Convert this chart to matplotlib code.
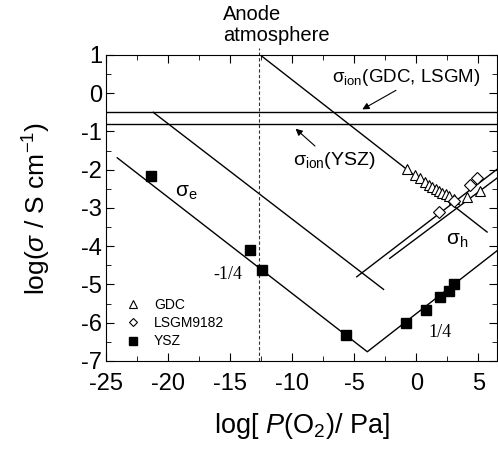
import numpy as np
import matplotlib
matplotlib.use("Agg")
import matplotlib.pyplot as plt
from matplotlib.ticker import MultipleLocator

plt.rcParams['font.family'] = ['Liberation Sans', 'DejaVu Sans']
plt.rcParams['mathtext.fontset'] = 'custom'
plt.rcParams['mathtext.rm'] = 'Liberation Sans'
plt.rcParams['mathtext.it'] = 'Liberation Sans:italic'
plt.rcParams['axes.unicode_minus'] = False

# measured points
ysz_x = [-21.4, -13.4, -12.4, -5.65, -0.85, 0.75, 1.9, 2.6, 3.05]
ysz_y = [-2.17, -4.11, -4.61, -6.33, -6.0, -5.66, -5.34, -5.17, -5.0]

gdc_x = [-0.75, -0.1, 0.3, 0.7, 1.0, 1.3, 1.55, 1.8, 2.05, 2.35, 2.6, 3.0, 4.1, 5.15]
gdc_y = [-1.99, -2.14, -2.22, -2.31, -2.40, -2.44, -2.51, -2.56, -2.60, -2.63, -2.69, -2.77, -2.72, -2.57]

lsgm_x = [1.8, 3.0, 4.35, 4.9]
lsgm_y = [-3.10, -2.83, -2.40, -2.22]

# model lines (slopes -1/4 and +1/4)
ysz_e_x = [-24.1, -3.95, 6.5]
ysz_e_y = [-1.69, -6.76, -4.12]
line_a_x = [-21.2, -2.64]
line_a_y = [-0.5, -5.13]
line_b_x = [-12.58, 5.7]
line_b_y = [1.0, -3.63]
line_c_x = [-4.8, 6.5]
line_c_y = [-4.80, -1.99]
line_d_x = [-2.15, 6.5]
line_d_y = [-4.32, -2.22]

sigma_ion_gdc = -0.5
sigma_ion_ysz = -0.8
anode_x = -12.7

fig = plt.figure(figsize=(4.98, 4.54), dpi=100)
ax = fig.add_axes([0.213, 0.205, 0.785, 0.674])

lw = 1.0
ax.plot(ysz_e_x, ysz_e_y, color='black', lw=lw)
ax.plot(line_a_x, line_a_y, color='black', lw=lw)
ax.plot(line_b_x, line_b_y, color='black', lw=lw)
ax.plot(line_c_x, line_c_y, color='black', lw=lw)
ax.plot(line_d_x, line_d_y, color='black', lw=lw)
ax.axhline(sigma_ion_gdc, color='black', lw=lw)
ax.axhline(sigma_ion_ysz, color='black', lw=lw)
ax.plot([anode_x, anode_x], [-7, 1.18], color='#333333', lw=0.8,
        ls=(0, (3, 2)), clip_on=False)

ax.plot(gdc_x, gdc_y, ls='none', marker='^', ms=7, mfc='white', mec='black',
        mew=0.8, label='GDC')
ax.plot(lsgm_x, lsgm_y, ls='none', marker='D', ms=6, mfc='white', mec='black',
        mew=0.8, label='LSGM9182')
ax.plot(ysz_x, ysz_y, ls='none', marker='s', ms=7, color='black', label='YSZ')

ax.set_xlim(-25, 6.5)
ax.set_ylim(-7, 1)
ax.xaxis.set_major_locator(MultipleLocator(5))
ax.xaxis.set_minor_locator(MultipleLocator(2.5))
ax.yaxis.set_major_locator(MultipleLocator(1))
ax.yaxis.set_minor_locator(MultipleLocator(0.5))
ax.tick_params(which='both', direction='in', top=True, right=True, labelsize=17)
ax.tick_params(which='major', length=6)
ax.tick_params(which='minor', length=3.5)
ax.tick_params(axis='x', pad=9)
ax.tick_params(axis='y', pad=3)

ax.set_xlabel(r'log[ $P$(O$_2$)/ Pa]', fontsize=19.5, labelpad=11)
ax.set_ylabel(r'log($\sigma$ / S cm$^{-1}$)', fontsize=19, labelpad=20)

# annotations
ax.text(-15.55, 1.26, 'Anode\natmosphere', ha='left', va='bottom',
        fontsize=14.5, linespacing=1.1, clip_on=False)
ax.text(-0.8, 0.4, 'σ$_\\mathrm{ion}$(GDC, LSGM)', ha='center', va='center', fontsize=13.5)
ax.annotate('', xy=(-4.55, -0.46), xytext=(-1.45, 0.11),
            arrowprops=dict(arrowstyle='-|>', color='black', lw=0.8,
                            mutation_scale=10))
ax.text(-6.6, -1.75, 'σ$_\\mathrm{ion}$(YSZ)', ha='center', va='center', fontsize=14)
ax.annotate('', xy=(-9.9, -0.88), xytext=(-8.0, -1.43),
            arrowprops=dict(arrowstyle='-|>', color='black', lw=0.8,
                            mutation_scale=10))
ax.text(-18.5, -2.6, 'σ$_\\mathrm{e}$', ha='center', va='center', fontsize=15)
ax.text(3.3, -3.84, 'σ$_\\mathrm{h}$', ha='center', va='center', fontsize=15)
ax.text(-15.2, -4.75, '-1/4', ha='center', va='center', fontsize=13,
        family='Liberation Serif')
ax.text(1.9, -6.25, '1/4', ha='center', va='center', fontsize=13,
        family='Liberation Serif')

leg = ax.legend(loc='lower left', bbox_to_anchor=(0.02, 0.0), frameon=False,
                fontsize=10, handlelength=1.0, handletextpad=1.0,
                labelspacing=0.3, markerscale=0.75)

fig.savefig('out.png', dpi=100)
